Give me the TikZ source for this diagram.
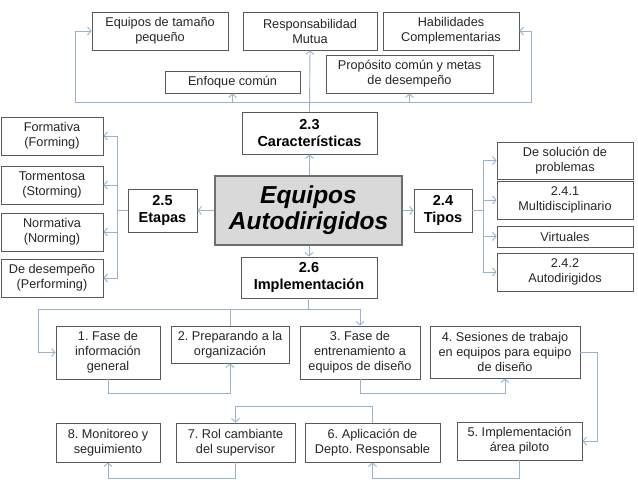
\documentclass[tikz,border=0pt]{standalone}
\usepackage{fontspec}
\setmainfont{Liberation Sans}
\usetikzlibrary{arrows.meta}
\frenchspacing
\definecolor{linec}{RGB}{152,178,206}
\definecolor{boxc}{RGB}{89,89,89}
\definecolor{cfill}{RGB}{217,217,217}
\definecolor{cdraw}{RGB}{110,110,110}
\newcommand{\bx}[7][]{\node[box,#1,minimum width={(#5-#3)*1pt},minimum height={(#6-#4)*1pt}] (#2) at ({(#3+#5)/2},{(#4+#6)/2}) {#7};}
\tikzset{
  box/.style={draw=boxc, line width=0.8pt, fill=white, align=center, inner sep=0pt,
    font=\fontsize{12.7}{15}\selectfont\frenchspacing, text=black!85},
  hbox/.style={box, font=\fontsize{14.5}{17}\selectfont\bfseries, text=black},
  cbox/.style={box, fill=cfill, draw=cdraw, line width=1.6pt, text=black,
    font=\fontsize{24.5}{26}\selectfont\bfseries\itshape},
  conn/.style={draw=linec, line width=0.9pt},
  arr/.style={conn, -{Straight Barb[length=3.5pt,width=8pt]}}
}
\begin{document}
\begin{tikzpicture}[x=1pt,y=-1pt]
\path[use as bounding box] (0,0) rectangle (638,483);
% top
\bx{equi}{92}{12}{228}{50}{Equipos de tamaño\\pequeño}
\bx{resp}{243}{12}{377}{50}{Responsabilidad\\Mutua}
\bx{habil}{383}{12}{519}{50}{Habilidades\\Complementarias}
\bx{enf}{165}{71}{300}{93}{Enfoque común}
\bx{prop}{326}{55}{493}{93}{Propósito común y metas\\de desempeño}
% headers
\bx[hbox]{c23}{242}{112}{377}{154}{2.3\\Características}
\bx[cbox]{c}{215}{176}{402}{245}{Equipos\\Autodirigidos}
\bx[hbox]{c25}{128}{189}{197}{232}{2.5\\Etapas}
\bx[hbox]{c24}{414}{189}{472}{232}{2.4\\Tipos}
\bx[hbox]{c26}{241}{257}{377}{298}{2.6\\Implementación}
% left
\bx{f1}{1}{117}{103}{155}{Formativa\\(Forming)}
\bx{f2}{1}{166}{103}{204}{Tormentosa\\(Storming)}
\bx{f3}{1}{213}{103}{251}{Normativa\\(Norming)}
\bx{f4}{1}{259}{103}{297}{De desempeño\\(Performing)}
% right
\bx{r1}{497}{142}{633}{179}{De solución de\\problemas}
\bx{r2}{497}{181}{633}{219}{2.4.1\\Multidisciplinario}
\bx{r3}{497}{226}{633}{247}{Virtuales}
\bx{r4}{497}{253}{633}{291}{2.4.2\\Autodirigidos}
% implementation steps
\bx{p1}{56}{326}{160}{379}{1. Fase de\\información\\general}
\bx{p2}{171}{326}{289}{363}{2. Preparando a la\\organización}
\bx{p3}{300}{326}{420}{379}{3. Fase de\\entrenamiento a\\equipos de diseño}
\bx{p4}{430}{326}{580}{378}{4. Sesiones de trabajo\\en equipos para equipo\\de diseño}
\bx{p5}{457}{422}{582}{460}{5. Implementación\\área piloto}
\bx{p6}{305}{423}{440}{462}{6. Aplicación de\\Depto. Responsable}
\bx{p7}{176}{423}{295}{462}{7. Rol cambiante\\del supervisor}
\bx{p8}{56}{423}{160}{462}{8. Monitoreo y\\seguimiento}
% coordinates
\coordinate (tb) at (310,102);
\coordinate (tl) at (75,102);
\coordinate (tr) at (531,102);
\coordinate (lb) at (117,210.5);
\coordinate (lt) at (117,136);
\coordinate (rb) at (483,210.5);
\coordinate (rt) at (483,160.5);
\coordinate (ib) at (308,309);
\coordinate (il) at (38,309);
% top connectors
\draw[arr] (c.north -| c23.south) -- (c23.south);
\draw[arr] (c23.north) -- (resp.south);
\draw[arr] (tb) -- (tl) |- (equi.west);
\draw[arr] (tb) -- (tr) |- (habil.east);
\draw[arr] (enf.south |- tb) -- (enf.south);
\draw[arr] (prop.south |- tb) -- (prop.south);
% left
\draw[arr] (c.west |- c25.east) -- (c25.east);
\draw[conn] (c25.west) -- (lb);
\draw[arr] (lb) |- (f1.east);
\draw[arr] (lt) |- (f2.east);
\draw[arr] (lb) |- (f3.east);
\draw[arr] (lb) |- (f4.east);
% right
\draw[arr] (c.east |- c24.west) -- (c24.west);
\draw[conn] (c24.east) -- (rb);
\draw[arr] (rb) |- (r1.west);
\draw[arr] (rt) |- (r2.west);
\draw[arr] (rb) |- (r3.west);
\draw[arr] (rb) |- (r4.west);
% implementation
\draw[arr] (c.south -| c26.north) -- (c26.north);
\draw[conn] (c26.south -| ib) -- (ib);
\draw[arr] (ib) -- (il) |- (p1.west);
\draw[conn] (p2.north |- ib) -- (p2.north);
\draw[arr] (ib) -| (p3.north);
\draw[arr] (p1.south) -- ++(0,14) -| (p2.south);
\draw[arr] (p3.south) -- ++(0,14) -| (p4.south);
\draw[arr] (p4.east) -- ++(17,0) |- (p5.east);
\draw[arr] (p5.south) -- ++(0,18) -| (p6.south);
\draw[arr] (p6.north) -- ++(0,-16) -| (p7.north);
\draw[arr] (p7.south) -- ++(0,16) -| (p8.south);
\end{tikzpicture}
\end{document}
